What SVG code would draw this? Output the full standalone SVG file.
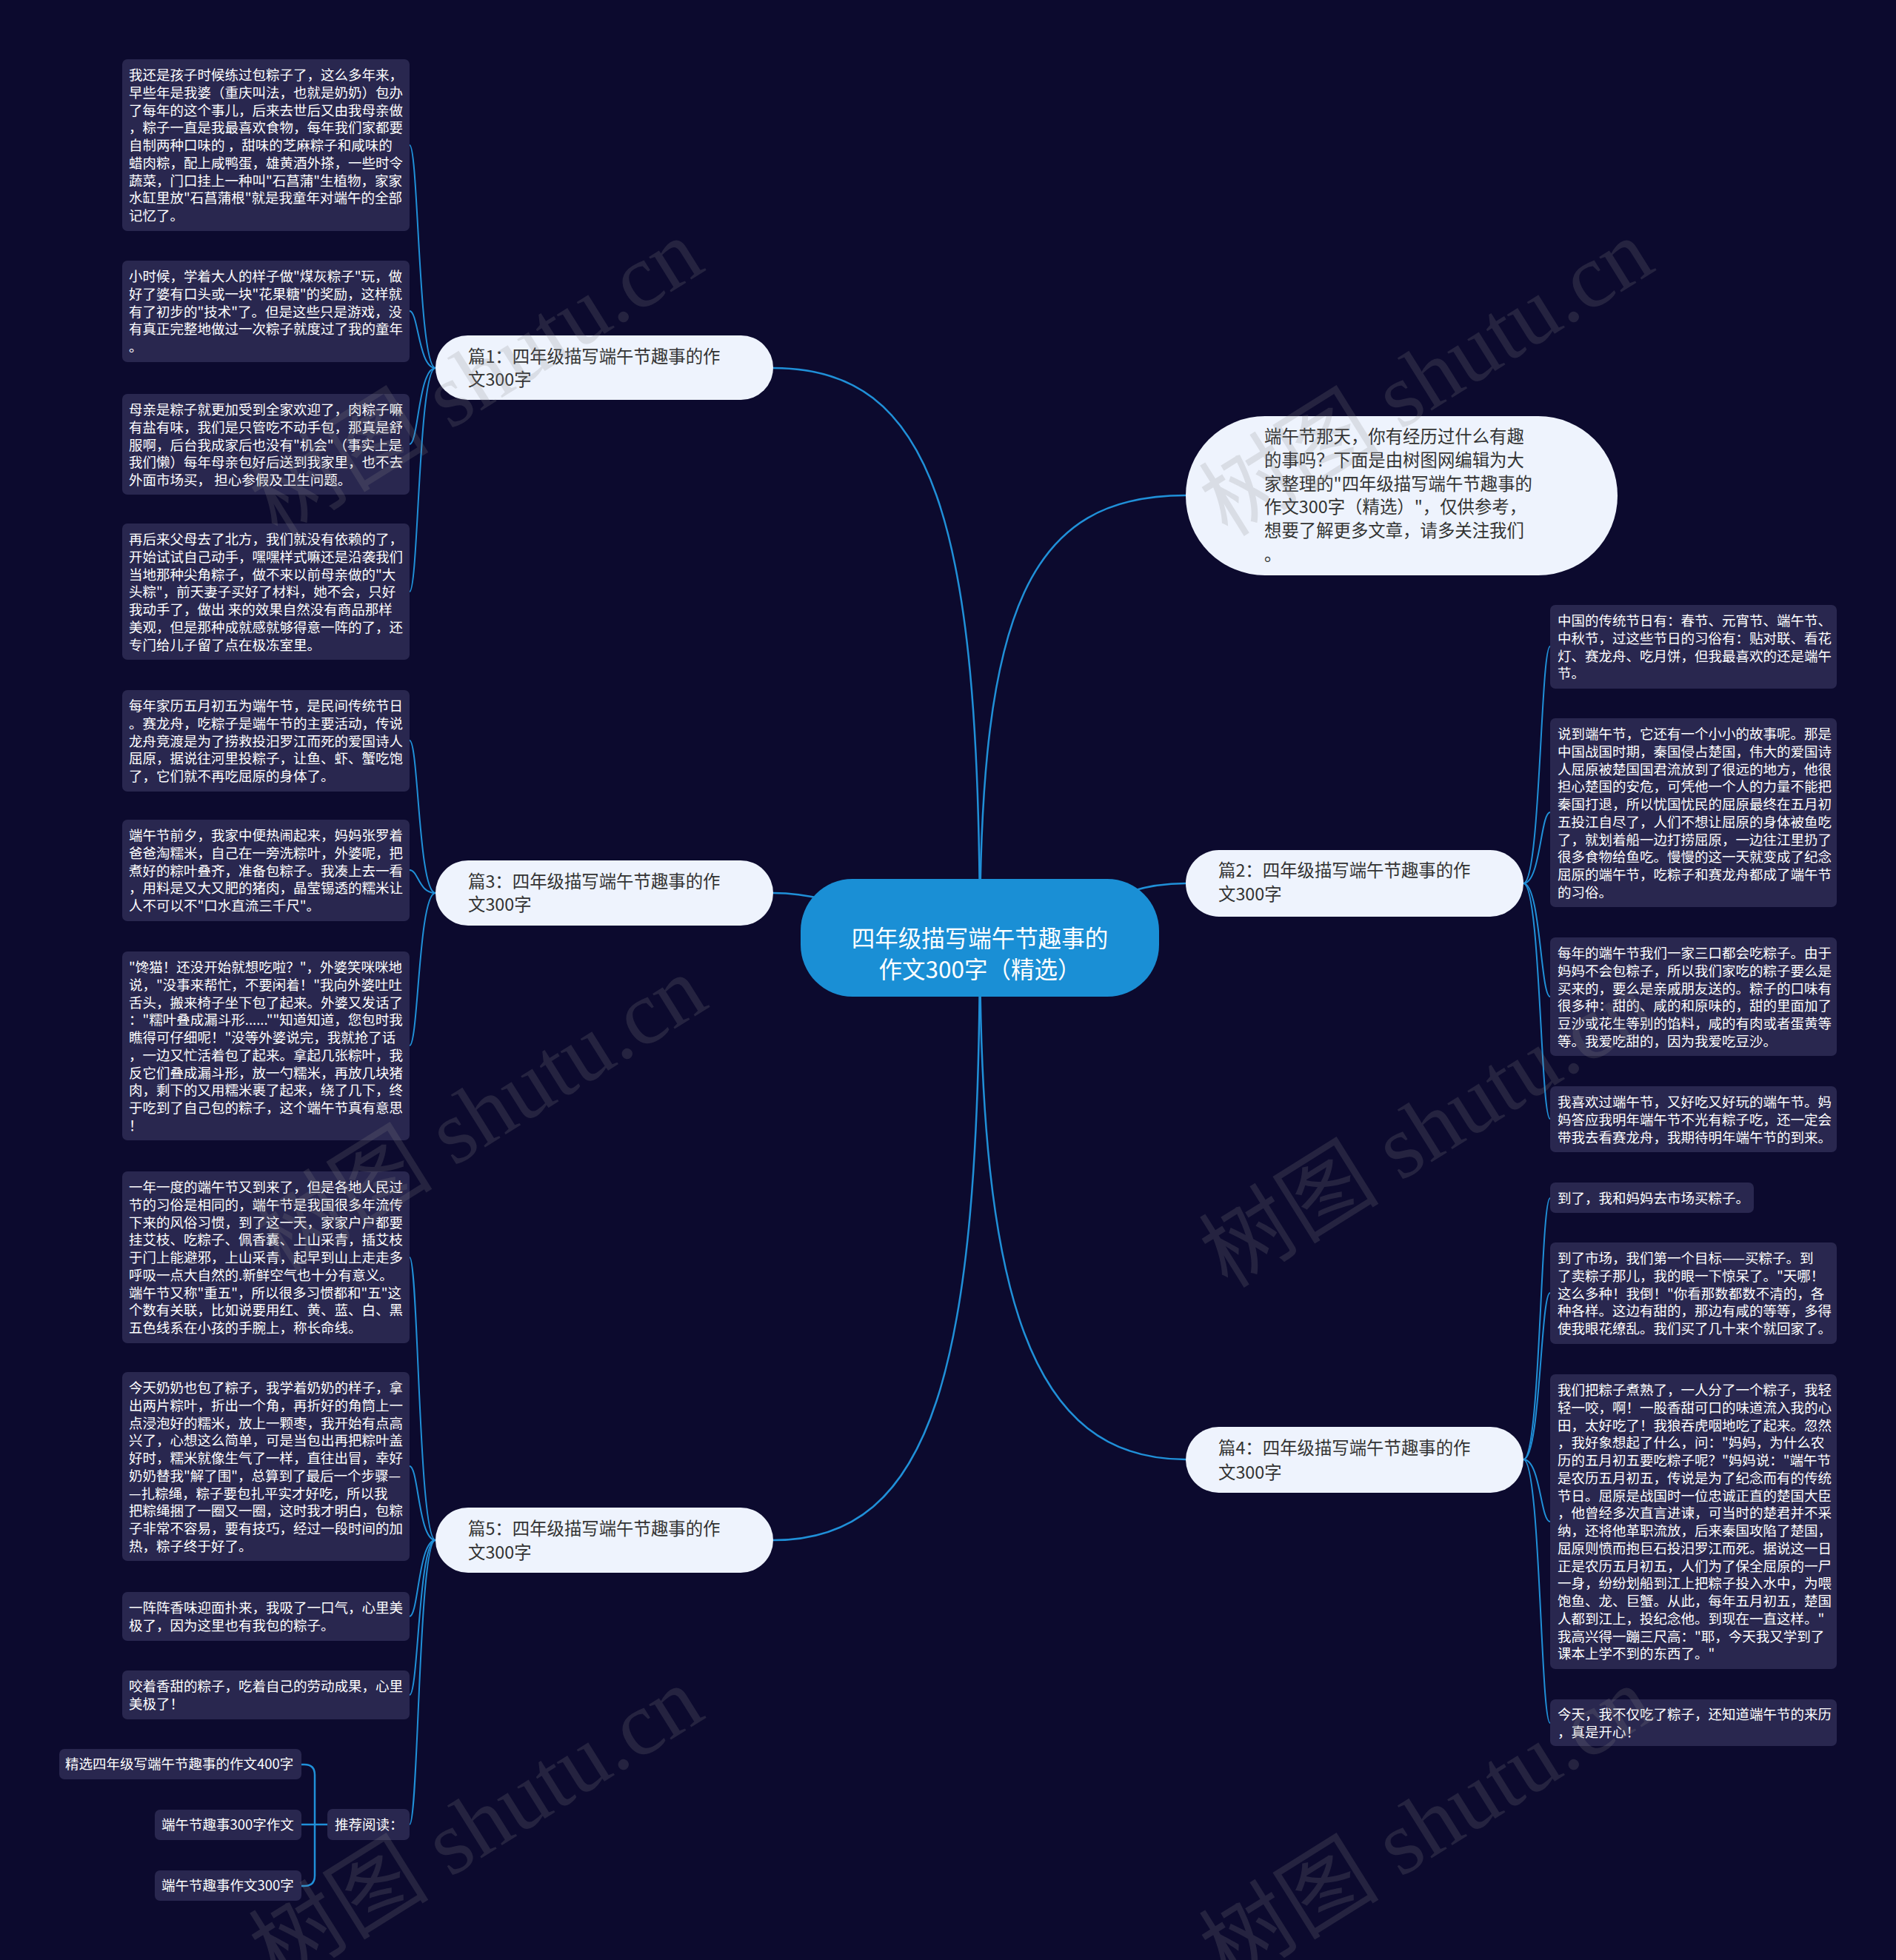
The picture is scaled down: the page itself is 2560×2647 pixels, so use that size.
<svg xmlns="http://www.w3.org/2000/svg" width="2560" height="2647" viewBox="0 0 2560 2647">
<style>
.bg{fill:#0c0a2e}
.leaf{fill:#29274f}
.lt{font-family:"Noto Sans CJK SC","Noto Sans",sans-serif;font-size:18.5px;fill:#ffffff}
.br{fill:#eef3fd}
.bt{font-family:"Noto Sans CJK SC","Noto Sans",sans-serif;font-size:23.4px;fill:#333333}
.ct{font-family:"Noto Sans CJK SC","Noto Sans",sans-serif;font-size:31.5px;fill:#ffffff}
.con{fill:none;stroke:#2090d8;stroke-width:2.5}
.lc{fill:none;stroke:#2090d8;stroke-width:2}
.wm{font-family:"Liberation Serif","Noto Sans CJK SC",serif;font-size:122px;fill:#888888;opacity:0.2}
</style>
<rect class="bg" x="0" y="0" width="2560" height="2647"/>
<g id="connectors">
<path class="con" d="M1323,1266 C1323,700 1260,497 1044,497"/>
<path class="con" d="M1323,1266 C1200,1266 1150,1206 1044,1206"/>
<path class="con" d="M1323,1266 C1323,1850 1260,2080 1044,2080"/>
<path class="con" d="M1323,1266 C1323,820 1390,669 1601,669"/>
<path class="con" d="M1323,1266 C1450,1266 1480,1193 1601,1193"/>
<path class="con" d="M1323,1266 C1323,1750 1390,1971 1601,1971"/>
<path class="lc" d="M588,497 C565,497 565,196 553,196"/>
<path class="lc" d="M588,497 C565,497 565,420 553,420"/>
<path class="lc" d="M588,497 C565,497 565,600 553,600"/>
<path class="lc" d="M588,497 C565,497 565,799 553,799"/>
<path class="lc" d="M588,1206 C565,1206 565,1000 553,1000"/>
<path class="lc" d="M588,1206 C565,1206 565,1175 553,1175"/>
<path class="lc" d="M588,1206 C565,1206 565,1412 553,1412"/>
<path class="lc" d="M588,2080 C565,2080 565,1698 553,1698"/>
<path class="lc" d="M588,2080 C565,2080 565,1980 553,1980"/>
<path class="lc" d="M588,2080 C565,2080 565,2183 553,2183"/>
<path class="lc" d="M588,2080 C565,2080 565,2289 553,2289"/>
<path class="lc" d="M588,2080 C565,2080 565,2464 553,2464"/>
<path class="lc" d="M2057,1193 C2080,1193 2080,873 2093,873"/>
<path class="lc" d="M2057,1193 C2080,1193 2080,1097 2093,1097"/>
<path class="lc" d="M2057,1193 C2080,1193 2080,1346 2093,1346"/>
<path class="lc" d="M2057,1193 C2080,1193 2080,1511 2093,1511"/>
<path class="lc" d="M2057,1971 C2080,1971 2080,1618 2093,1618"/>
<path class="lc" d="M2057,1971 C2080,1971 2080,1746 2093,1746"/>
<path class="lc" d="M2057,1971 C2080,1971 2080,2055 2093,2055"/>
<path class="lc" d="M2057,1971 C2080,1971 2080,2327 2093,2327"/>
<path class="con" d="M442,2464 H425 V2397 Q425,2383 411,2383 H407 M425,2464 V2533 Q425,2547 411,2547 H407 M425,2464 H407"/>
</g>
<g id="center">
<rect x="1081" y="1187" width="484" height="159" rx="70" fill="#1a8fd5"/>
<text class="ct" text-anchor="middle"><tspan x="1323" y="1279">四年级描写端午节趣事的</tspan><tspan x="1323" y="1321">作文300字（精选）</tspan></text>
</g>
<g id="b1">
<rect class="br" x="588" y="453" width="456" height="87" rx="43.5"/>
<text class="bt"><tspan x="632" y="490">篇1：四年级描写端午节趣事的作</tspan><tspan x="632" y="521">文300字</tspan></text>
</g>
<g id="b3">
<rect class="br" x="588" y="1162" width="456" height="88" rx="44"/>
<text class="bt"><tspan x="632" y="1199">篇3：四年级描写端午节趣事的作</tspan><tspan x="632" y="1230">文300字</tspan></text>
</g>
<g id="b5">
<rect class="br" x="588" y="2036" width="456" height="88" rx="44"/>
<text class="bt"><tspan x="632" y="2073">篇5：四年级描写端午节趣事的作</tspan><tspan x="632" y="2105">文300字</tspan></text>
</g>
<g id="b2">
<rect class="br" x="1601" y="1148" width="456" height="90" rx="45"/>
<text class="bt"><tspan x="1645" y="1184">篇2：四年级描写端午节趣事的作</tspan><tspan x="1645" y="1216">文300字</tspan></text>
</g>
<g id="b4">
<rect class="br" x="1601" y="1927" width="456" height="89" rx="44.5"/>
<text class="bt"><tspan x="1645" y="1964">篇4：四年级描写端午节趣事的作</tspan><tspan x="1645" y="1997">文300字</tspan></text>
</g>
<g id="intro">
<rect class="br" x="1601" y="562" width="583" height="215" rx="107"/>
<text class="bt"><tspan x="1707" y="598">端午节那天，你有经历过什么有趣</tspan><tspan x="1707" dy="31.75">的事吗？下面是由树图网编辑为大</tspan><tspan x="1707" dy="31.75">家整理的"四年级描写端午节趣事的</tspan><tspan x="1707" dy="31.75">作文300字（精选）"，仅供参考，</tspan><tspan x="1707" dy="31.75">想要了解更多文章，请多关注我们</tspan><tspan x="1707" dy="31.75">。</tspan></text>
</g>
<g id="l1">
<rect class="leaf" x="165" y="80" width="388" height="232" rx="7"/>
<text class="lt"><tspan x="174" y="108">我还是孩子时候练过包粽子了，这么多年来，</tspan><tspan x="174" dy="23.75">早些年是我婆（重庆叫法，也就是奶奶）包办</tspan><tspan x="174" dy="23.75">了每年的这个事儿，后来去世后又由我母亲做</tspan><tspan x="174" dy="23.75">，粽子一直是我最喜欢食物，每年我们家都要</tspan><tspan x="174" dy="23.75">自制两种口味的 ，甜味的芝麻粽子和咸味的</tspan><tspan x="174" dy="23.75">蜡肉粽，配上咸鸭蛋，雄黄酒外搽，一些时令</tspan><tspan x="174" dy="23.75">蔬菜，门口挂上一种叫"石菖蒲"生植物，家家</tspan><tspan x="174" dy="23.75">水缸里放"石菖蒲根"就是我童年对端午的全部</tspan><tspan x="174" dy="23.75">记忆了。</tspan></text>
</g>
<g id="l2">
<rect class="leaf" x="165" y="352" width="388" height="137" rx="7"/>
<text class="lt"><tspan x="174" y="380">小时候，学着大人的样子做"煤灰粽子"玩，做</tspan><tspan x="174" dy="23.75">好了婆有口头或一块"花果糖"的奖励，这样就</tspan><tspan x="174" dy="23.75">有了初步的"技术"了。但是这些只是游戏，没</tspan><tspan x="174" dy="23.75">有真正完整地做过一次粽子就度过了我的童年</tspan><tspan x="174" dy="23.75">。</tspan></text>
</g>
<g id="l3">
<rect class="leaf" x="165" y="532" width="388" height="136" rx="7"/>
<text class="lt"><tspan x="174" y="560">母亲是粽子就更加受到全家欢迎了，肉粽子嘛</tspan><tspan x="174" dy="23.75">有盐有味，我们是只管吃不动手包，那真是舒</tspan><tspan x="174" dy="23.75">服啊，后台我成家后也没有"机会"（事实上是</tspan><tspan x="174" dy="23.75">我们懒）每年母亲包好后送到我家里，也不去</tspan><tspan x="174" dy="23.75">外面市场买， 担心参假及卫生问题。</tspan></text>
</g>
<g id="l4">
<rect class="leaf" x="165" y="707" width="388" height="184" rx="7"/>
<text class="lt"><tspan x="174" y="735">再后来父母去了北方，我们就没有依赖的了，</tspan><tspan x="174" dy="23.75">开始试试自己动手，嘿嘿样式嘛还是沿袭我们</tspan><tspan x="174" dy="23.75">当地那种尖角粽子，做不来以前母亲做的"大</tspan><tspan x="174" dy="23.75">头粽"，前天妻子买好了材料，她不会，只好</tspan><tspan x="174" dy="23.75">我动手了，做出 来的效果自然没有商品那样</tspan><tspan x="174" dy="23.75">美观，但是那种成就感就够得意一阵的了，还</tspan><tspan x="174" dy="23.75">专门给儿子留了点在极冻室里。</tspan></text>
</g>
<g id="l5">
<rect class="leaf" x="165" y="932" width="388" height="137" rx="7"/>
<text class="lt"><tspan x="174" y="960">每年家历五月初五为端午节，是民间传统节日</tspan><tspan x="174" dy="23.75">。赛龙舟，吃粽子是端午节的主要活动，传说</tspan><tspan x="174" dy="23.75">龙舟竞渡是为了捞救投汨罗江而死的爱国诗人</tspan><tspan x="174" dy="23.75">屈原，据说往河里投粽子，让鱼、虾、蟹吃饱</tspan><tspan x="174" dy="23.75">了，它们就不再吃屈原的身体了。</tspan></text>
</g>
<g id="l6">
<rect class="leaf" x="165" y="1107" width="388" height="137" rx="7"/>
<text class="lt"><tspan x="174" y="1135">端午节前夕，我家中便热闹起来，妈妈张罗着</tspan><tspan x="174" dy="23.75">爸爸淘糯米，自己在一旁洗粽叶，外婆呢，把</tspan><tspan x="174" dy="23.75">煮好的粽叶叠齐，准备包粽子。我凑上去一看</tspan><tspan x="174" dy="23.75">，用料是又大又肥的猪肉，晶莹锡透的糯米让</tspan><tspan x="174" dy="23.75">人不可以不"口水直流三千尺"。</tspan></text>
</g>
<g id="l7">
<rect class="leaf" x="165" y="1285" width="388" height="255" rx="7"/>
<text class="lt"><tspan x="174" y="1313">"馋猫！还没开始就想吃啦？"，外婆笑咪咪地</tspan><tspan x="174" dy="23.75">说，"没事来帮忙，不要闲着！"我向外婆吐吐</tspan><tspan x="174" dy="23.75">舌头，搬来椅子坐下包了起来。外婆又发话了</tspan><tspan x="174" dy="23.75">："糯叶叠成漏斗形......""知道知道，您包时我</tspan><tspan x="174" dy="23.75">瞧得可仔细呢！"没等外婆说完，我就抢了话</tspan><tspan x="174" dy="23.75">，一边又忙活着包了起来。拿起几张粽叶，我</tspan><tspan x="174" dy="23.75">反它们叠成漏斗形，放一勺糯米，再放几块猪</tspan><tspan x="174" dy="23.75">肉，剩下的又用糯米裹了起来，绕了几下，终</tspan><tspan x="174" dy="23.75">于吃到了自己包的粽子，这个端午节真有意思</tspan><tspan x="174" dy="23.75">！</tspan></text>
</g>
<g id="l8">
<rect class="leaf" x="165" y="1582" width="388" height="232" rx="7"/>
<text class="lt"><tspan x="174" y="1610">一年一度的端午节又到来了，但是各地人民过</tspan><tspan x="174" dy="23.75">节的习俗是相同的，端午节是我国很多年流传</tspan><tspan x="174" dy="23.75">下来的风俗习惯，到了这一天，家家户户都要</tspan><tspan x="174" dy="23.75">挂艾枝、吃粽子、佩香囊、上山采青，插艾枝</tspan><tspan x="174" dy="23.75">于门上能避邪，上山采青，起早到山上走走多</tspan><tspan x="174" dy="23.75">呼吸一点大自然的.新鲜空气也十分有意义。</tspan><tspan x="174" dy="23.75">端午节又称"重五"，所以很多习惯都和"五"这</tspan><tspan x="174" dy="23.75">个数有关联，比如说要用红、黄、蓝、白、黑</tspan><tspan x="174" dy="23.75">五色线系在小孩的手腕上，称长命线。</tspan></text>
</g>
<g id="l9">
<rect class="leaf" x="165" y="1853" width="388" height="255" rx="7"/>
<text class="lt"><tspan x="174" y="1881">今天奶奶也包了粽子，我学着奶奶的样子，拿</tspan><tspan x="174" dy="23.75">出两片粽叶，折出一个角，再折好的角筒上一</tspan><tspan x="174" dy="23.75">点浸泡好的糯米，放上一颗枣，我开始有点高</tspan><tspan x="174" dy="23.75">兴了，心想这么简单，可是当包出再把粽叶盖</tspan><tspan x="174" dy="23.75">好时，糯米就像生气了一样，直往出冒，幸好</tspan><tspan x="174" dy="23.75">奶奶替我"解了围"，总算到了最后一个步骤—</tspan><tspan x="174" dy="23.75">—扎粽绳，粽子要包扎平实才好吃，所以我</tspan><tspan x="174" dy="23.75">把粽绳捆了一圈又一圈，这时我才明白，包粽</tspan><tspan x="174" dy="23.75">子非常不容易，要有技巧，经过一段时间的加</tspan><tspan x="174" dy="23.75">热，粽子终于好了。</tspan></text>
</g>
<g id="l10">
<rect class="leaf" x="165" y="2150" width="388" height="66" rx="7"/>
<text class="lt"><tspan x="174" y="2178">一阵阵香味迎面扑来，我吸了一口气，心里美</tspan><tspan x="174" dy="23.75">极了，因为这里也有我包的粽子。</tspan></text>
</g>
<g id="l11">
<rect class="leaf" x="165" y="2256" width="388" height="66" rx="7"/>
<text class="lt"><tspan x="174" y="2284">咬着香甜的粽子，吃着自己的劳动成果，心里</tspan><tspan x="174" dy="23.75">美极了！</tspan></text>
</g>
<g id="rec">
<rect class="leaf" x="442" y="2443" width="111" height="42" rx="7"/>
<text class="lt" x="452" y="2471">推荐阅读：</text>
</g>
<g id="rec1">
<rect class="leaf" x="80" y="2362" width="327" height="41" rx="7"/>
<text class="lt" x="88" y="2389">精选四年级写端午节趣事的作文400字</text>
</g>
<g id="rec2">
<rect class="leaf" x="209" y="2444" width="198" height="41" rx="7"/>
<text class="lt" x="218" y="2471">端午节趣事300字作文</text>
</g>
<g id="rec3">
<rect class="leaf" x="209" y="2526" width="198" height="41" rx="7"/>
<text class="lt" x="218" y="2553">端午节趣事作文300字</text>
</g>
<g id="r1">
<rect class="leaf" x="2093" y="817" width="387" height="113" rx="7"/>
<text class="lt"><tspan x="2103" y="845">中国的传统节日有：春节、元宵节、端午节、</tspan><tspan x="2103" dy="23.75">中秋节，过这些节日的习俗有：贴对联、看花</tspan><tspan x="2103" dy="23.75">灯、赛龙舟、吃月饼，但我最喜欢的还是端午</tspan><tspan x="2103" dy="23.75">节。</tspan></text>
</g>
<g id="r2">
<rect class="leaf" x="2093" y="970" width="387" height="255" rx="7"/>
<text class="lt"><tspan x="2103" y="998">说到端午节，它还有一个小小的故事呢。那是</tspan><tspan x="2103" dy="23.75">中国战国时期，秦国侵占楚国，伟大的爱国诗</tspan><tspan x="2103" dy="23.75">人屈原被楚国国君流放到了很远的地方，他很</tspan><tspan x="2103" dy="23.75">担心楚国的安危，可凭他一个人的力量不能把</tspan><tspan x="2103" dy="23.75">秦国打退，所以忧国忧民的屈原最终在五月初</tspan><tspan x="2103" dy="23.75">五投江自尽了，人们不想让屈原的身体被鱼吃</tspan><tspan x="2103" dy="23.75">了，就划着船一边打捞屈原，一边往江里扔了</tspan><tspan x="2103" dy="23.75">很多食物给鱼吃。慢慢的这一天就变成了纪念</tspan><tspan x="2103" dy="23.75">屈原的端午节，吃粽子和赛龙舟都成了端午节</tspan><tspan x="2103" dy="23.75">的习俗。</tspan></text>
</g>
<g id="r3">
<rect class="leaf" x="2093" y="1266" width="387" height="160" rx="7"/>
<text class="lt"><tspan x="2103" y="1294">每年的端午节我们一家三口都会吃粽子。由于</tspan><tspan x="2103" dy="23.75">妈妈不会包粽子，所以我们家吃的粽子要么是</tspan><tspan x="2103" dy="23.75">买来的，要么是亲戚朋友送的。粽子的口味有</tspan><tspan x="2103" dy="23.75">很多种：甜的、咸的和原味的，甜的里面加了</tspan><tspan x="2103" dy="23.75">豆沙或花生等别的馅料，咸的有肉或者蛋黄等</tspan><tspan x="2103" dy="23.75">等。我爱吃甜的，因为我爱吃豆沙。</tspan></text>
</g>
<g id="r4">
<rect class="leaf" x="2093" y="1467" width="387" height="89" rx="7"/>
<text class="lt"><tspan x="2103" y="1495">我喜欢过端午节，又好吃又好玩的端午节。妈</tspan><tspan x="2103" dy="23.75">妈答应我明年端午节不光有粽子吃，还一定会</tspan><tspan x="2103" dy="23.75">带我去看赛龙舟，我期待明年端午节的到来。</tspan></text>
</g>
<g id="r5">
<rect class="leaf" x="2093" y="1597" width="275" height="41" rx="7"/>
<text class="lt" x="2103" y="1625">到了，我和妈妈去市场买粽子。</text>
</g>
<g id="r6">
<rect class="leaf" x="2093" y="1678" width="387" height="137" rx="7"/>
<text class="lt"><tspan x="2103" y="1706">到了市场，我们第一个目标——买粽子。到</tspan><tspan x="2103" dy="23.75">了卖粽子那儿，我的眼一下惊呆了。"天哪！</tspan><tspan x="2103" dy="23.75">这么多种！我倒！"你看那数都数不清的，各</tspan><tspan x="2103" dy="23.75">种各样。这边有甜的，那边有咸的等等，多得</tspan><tspan x="2103" dy="23.75">使我眼花缭乱。我们买了几十来个就回家了。</tspan></text>
</g>
<g id="r7">
<rect class="leaf" x="2093" y="1856" width="387" height="398" rx="7"/>
<text class="lt"><tspan x="2103" y="1884">我们把粽子煮熟了，一人分了一个粽子，我轻</tspan><tspan x="2103" dy="23.75">轻一咬，啊！一股香甜可口的味道流入我的心</tspan><tspan x="2103" dy="23.75">田，太好吃了！我狼吞虎咽地吃了起来。忽然</tspan><tspan x="2103" dy="23.75">，我好象想起了什么，问："妈妈，为什么农</tspan><tspan x="2103" dy="23.75">历的五月初五要吃粽子呢？"妈妈说："端午节</tspan><tspan x="2103" dy="23.75">是农历五月初五，传说是为了纪念而有的传统</tspan><tspan x="2103" dy="23.75">节日。屈原是战国时一位忠诚正直的楚国大臣</tspan><tspan x="2103" dy="23.75">，他曾经多次直言进谏，可当时的楚君并不采</tspan><tspan x="2103" dy="23.75">纳，还将他革职流放，后来秦国攻陷了楚国，</tspan><tspan x="2103" dy="23.75">屈原则愤而抱巨石投汨罗江而死。据说这一日</tspan><tspan x="2103" dy="23.75">正是农历五月初五，人们为了保全屈原的一尸</tspan><tspan x="2103" dy="23.75">一身，纷纷划船到江上把粽子投入水中，为喂</tspan><tspan x="2103" dy="23.75">饱鱼、龙、巨蟹。从此，每年五月初五，楚国</tspan><tspan x="2103" dy="23.75">人都到江上，投纪念他。到现在一直这样。"</tspan><tspan x="2103" dy="23.75">我高兴得一蹦三尺高："耶，今天我又学到了</tspan><tspan x="2103" dy="23.75">课本上学不到的东西了。"</tspan></text>
</g>
<g id="r8">
<rect class="leaf" x="2093" y="2295" width="387" height="63" rx="7"/>
<text class="lt"><tspan x="2103" y="2322">今天，我不仅吃了粽子，还知道端午节的来历</tspan><tspan x="2103" dy="23.75">，真是开心！</tspan></text>
</g>
<g id="watermarks">
<text class="wm" text-anchor="middle" transform="translate(665,545) rotate(-32)">树图 shutu.cn</text>
<text class="wm" text-anchor="middle" transform="translate(1948,545) rotate(-32)">树图 shutu.cn</text>
<text class="wm" text-anchor="middle" transform="translate(670,1540) rotate(-32)">树图 shutu.cn</text>
<text class="wm" text-anchor="middle" transform="translate(1948,1560) rotate(-32)">树图 shutu.cn</text>
<text class="wm" text-anchor="middle" transform="translate(665,2500) rotate(-32)">树图 shutu.cn</text>
<text class="wm" text-anchor="middle" transform="translate(1948,2500) rotate(-32)">树图 shutu.cn</text>
</g>
</svg>
